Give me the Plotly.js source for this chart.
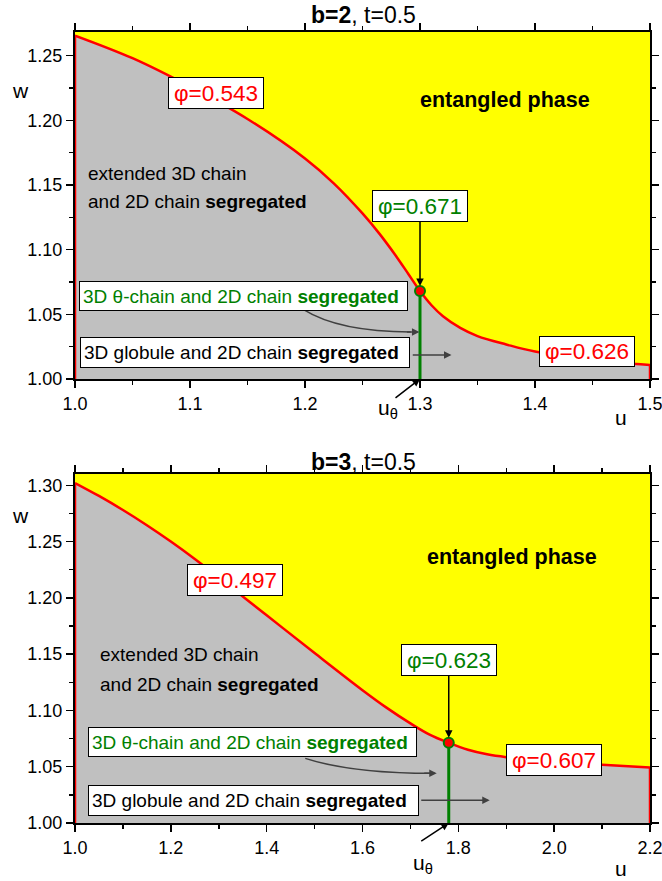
<!DOCTYPE html>
<html>
<head>
<meta charset="utf-8">
<script src="https://cdn.plot.ly/plotly-3.0.1.min.js"></script>
<style>html,body{margin:0;padding:0;background:#fff;}#chart{width:662px;height:881px;}</style>
</head>
<body>
<div id="chart"></div>
<script>
// ---------- data: top panel (b=2, t=0.5) ----------
var uTop = [1.0, 1.05, 1.10, 1.15, 1.20, 1.225, 1.25, 1.265, 1.28, 1.29, 1.30, 1.31, 1.32, 1.335, 1.35, 1.375, 1.40, 1.45, 1.5];
var wTop = [1.2655, 1.248, 1.226, 1.201, 1.1705, 1.1513, 1.128, 1.112, 1.094, 1.081, 1.068, 1.057, 1.0485, 1.0395, 1.0332, 1.0267, 1.0212, 1.0147, 1.0108];
var uThetaTop = [1.30];
var wThetaTop = [1.068];
// ---------- data: bottom panel (b=3, t=0.5) ----------
var uBot = [1.0, 1.05, 1.1, 1.15, 1.2, 1.25, 1.3, 1.4, 1.5, 1.6, 1.65, 1.7, 1.74, 1.78, 1.82, 1.86, 1.9, 2.0, 2.1, 2.2];
var wBot = [1.302, 1.2905, 1.278, 1.2645, 1.25, 1.2345, 1.218, 1.1845, 1.151, 1.118, 1.1025, 1.0885, 1.0785, 1.0712, 1.065, 1.061, 1.0585, 1.0545, 1.0517, 1.0494];
var uThetaBot = [1.78];
var wThetaBot = [1.0712];
// ---------- labels ----------
var titleTop = '<b>b=2</b>, t=0.5';
var titleBot = '<b>b=3</b>, t=0.5';
var phiTop = ['φ=0.543', 'φ=0.671', 'φ=0.626'];
var phiBot = ['φ=0.497', 'φ=0.623', 'φ=0.607'];
var regionText = ['entangled phase', 'extended 3D chain', 'and 2D chain <b>segregated</b>',
                  '3D θ-chain and 2D chain <b>segregated</b>', '3D globule and 2D chain <b>segregated</b>'];
var xTicksTop = [1.0, 1.1, 1.2, 1.3, 1.4, 1.5];
var xTicksBot = [1.0, 1.2, 1.4, 1.6, 1.8, 2.0, 2.2];

var RED = '#ff0000', GREEN = '#008000', GRAY = '#c0c0c0', AGRAY = '#404040';
var FONT = 'Liberation Sans, Arial, sans-serif';

function panelTraces(u, w, ut, wt, xa, ya) {
  var n = u.length;
  return [
    {x: u, y: w, xaxis: xa, yaxis: ya, mode: 'lines', fill: 'tozeroy', fillcolor: GRAY,
     line: {color: RED, width: 2.5, shape: 'spline', smoothing: 1}, hoverinfo: 'skip'},
    {x: [u[0], u[0]], y: [1.0, w[0]], xaxis: xa, yaxis: ya, mode: 'lines',
     line: {color: RED, width: 2.5}, hoverinfo: 'skip'},
    {x: [u[n-1], u[n-1]], y: [w[n-1], 1.0], xaxis: xa, yaxis: ya, mode: 'lines',
     line: {color: RED, width: 2.5}, hoverinfo: 'skip'},
    {x: [ut[0], ut[0]], y: [1.0, wt[0]], xaxis: xa, yaxis: ya, mode: 'lines',
     line: {color: GREEN, width: 3}, hoverinfo: 'skip'},
    {x: ut, y: wt, xaxis: xa, yaxis: ya, mode: 'markers',
     marker: {size: 10, color: RED, line: {color: GREEN, width: 2}}, hoverinfo: 'skip'}
  ];
}

var data = panelTraces(uTop, wTop, uThetaTop, wThetaTop, 'x', 'y')
  .concat(panelTraces(uBot, wBot, uThetaBot, wThetaBot, 'x2', 'y2'));

function xAxis(range, ticks, minorD, domain, anchor) {
  return {range: range, domain: domain, anchor: anchor, tickvals: ticks, tickformat: '.1f',
    ticks: 'outside', ticklen: 7, tickwidth: 1.5, tickcolor: '#000', ticklabeloverflow: 'allow',
    minor: {dtick: minorD, ticklen: 4, tickwidth: 1.5, tickcolor: '#000', ticks: 'outside'},
    showline: true, linecolor: '#000', linewidth: 2, mirror: 'allticks',
    showgrid: false, zeroline: false, tickfont: {family: FONT, size: 18, color: '#000'}, fixedrange: true};
}
function yAxis(range, domain, anchor) {
  return {range: range, domain: domain, anchor: anchor, dtick: 0.05, tick0: 1.0, tickformat: '.2f',
    ticks: 'outside', ticklen: 7, tickwidth: 1.5, tickcolor: '#000', ticklabeloverflow: 'allow',
    minor: {dtick: 0.025, ticklen: 4, tickwidth: 1.5, tickcolor: '#000', ticks: 'outside'},
    showline: true, linecolor: '#000', linewidth: 2, mirror: 'allticks',
    showgrid: false, zeroline: false, tickfont: {family: FONT, size: 18, color: '#000'}, fixedrange: true};
}

function boxAnn(xa, ya, x, y, text, color, size, width, height, align) {
  return {xref: xa, yref: ya, x: x, y: y, text: text, showarrow: false,
    font: {family: FONT, size: size, color: color}, bgcolor: '#fff', bordercolor: '#000',
    borderwidth: 1, borderpad: 3, width: width, height: height, align: align || 'center',
    xanchor: 'center', yanchor: 'middle'};
}
function txtAnn(xa, ya, x, y, text, size, xanchor) {
  return {xref: xa, yref: ya, x: x, y: y, text: text, showarrow: false,
    font: {family: FONT, size: size, color: '#000'}, xanchor: xanchor || 'center', yanchor: 'middle'};
}

var P = function (px) { return px / 662; };
var Q = function (py) { return 1 - py / 881; };

var annotations = [
  // titles & axis titles
  txtAnn('paper', 'paper', P(363), Q(15), titleTop, 23),
  txtAnn('paper', 'paper', P(363), Q(462), titleBot, 23),
  txtAnn('paper', 'paper', P(20), Q(90), 'w', 21),
  txtAnn('paper', 'paper', P(20), Q(515), 'w', 21),
  txtAnn('paper', 'paper', P(621), Q(417), 'u', 21),
  txtAnn('paper', 'paper', P(621), Q(868), 'u', 21),
  // u_theta labels
  {xref: 'x', yref: 'paper', x: 1.262, y: Q(409), text: 'u<sub>θ</sub>', showarrow: false,
   font: {family: FONT, size: 21, color: '#000'}, xanchor: 'left', yanchor: 'middle'},
  {xref: 'x2', yref: 'paper', x: 1.701, y: Q(864), text: 'u<sub>θ</sub>', showarrow: false,
   font: {family: FONT, size: 21, color: '#000'}, xanchor: 'left', yanchor: 'middle'},
  {xref: 'x', yref: 'y', x: uThetaTop[0], y: 1.0, ax: -26, ay: 20, text: '', showarrow: true,
   arrowhead: 2, arrowsize: 1, arrowwidth: 1.5, arrowcolor: '#000'},
  {xref: 'x2', yref: 'y2', x: uThetaBot[0], y: 1.0, ax: -29, ay: 19, text: '', showarrow: true,
   arrowhead: 2, arrowsize: 1, arrowwidth: 1.5, arrowcolor: '#000'},

  // top panel labels
  boxAnn('x', 'y', 1.123, 1.2213, phiTop[0], RED, 22.5, 88, 24),
  boxAnn('x', 'y', 1.445, 1.0215, phiTop[2], RED, 22.5, 88, 23),
  txtAnn('x', 'y', 1.3735, 1.2154, '<b>' + regionText[0] + '</b>', 21.5),
  txtAnn('x', 'y', 1.0096, 1.159, regionText[1], 19, 'left'),
  txtAnn('x', 'y', 1.0096, 1.137, regionText[2], 19, 'left'),
  boxAnn('x', 'y', 1.1465, 1.0645, regionText[3].replace('<b>', '<b style="color:#008000">'), GREEN, 19, 321, 22, 'left'),
  boxAnn('x', 'y', 1.148, 1.0203, regionText[4], '#000', 19, 322, 23, 'left'),
  {xref: 'x', yref: 'y', axref: 'x', ayref: 'y', x: uThetaTop[0], y: wThetaTop[0], ax: 1.30, ay: 1.134,
   text: phiTop[1], showarrow: true, arrowhead: 2, arrowsize: 1, arrowwidth: 1.5, arrowcolor: '#000', standoff: 5,
   font: {family: FONT, size: 22.5, color: GREEN}, bgcolor: '#fff', bordercolor: '#000', borderwidth: 1, borderpad: 3,
   width: 88, height: 24},
  {xref: 'x', yref: 'y', x: 1.2995, y: 1.0364, ax: -14, ay: 0, text: '', showarrow: true,
   arrowhead: 2, arrowsize: 1, arrowwidth: 1.5, arrowcolor: AGRAY},
  {xref: 'x', yref: 'y', axref: 'x', ayref: 'y', x: 1.3274, y: 1.0185, ax: 1.2924, ay: 1.0185, text: '',
   showarrow: true, arrowhead: 2, arrowsize: 1, arrowwidth: 1.5, arrowcolor: AGRAY},

  // bottom panel labels
  boxAnn('x2', 'y2', 1.3346, 1.2155, phiBot[0], RED, 22.5, 88, 24),
  boxAnn('x2', 'y2', 2.0, 1.0559, phiBot[2], RED, 22.5, 88, 24),
  txtAnn('x2', 'y2', 1.913, 1.2359, '<b>' + regionText[0] + '</b>', 21.5),
  txtAnn('x2', 'y2', 1.047, 1.1493, regionText[1], 19, 'left'),
  txtAnn('x2', 'y2', 1.047, 1.1229, regionText[2], 19, 'left'),
  boxAnn('x2', 'y2', 1.371, 1.0718, regionText[3].replace('<b>', '<b style="color:#008000">'), GREEN, 19, 321, 22, 'left'),
  boxAnn('x2', 'y2', 1.3726, 1.0201, regionText[4], '#000', 19, 323, 23, 'left'),
  {xref: 'x2', yref: 'y2', axref: 'x2', ayref: 'y2', x: uThetaBot[0], y: wThetaBot[0], ax: 1.78, ay: 1.1446,
   text: phiBot[1], showarrow: true, arrowhead: 2, arrowsize: 1, arrowwidth: 1.5, arrowcolor: '#000', standoff: 5,
   font: {family: FONT, size: 22.5, color: GREEN}, bgcolor: '#fff', bordercolor: '#000', borderwidth: 1, borderpad: 3,
   width: 88, height: 24},
  {xref: 'x2', yref: 'y2', x: 1.7549, y: 1.0441, ax: -14, ay: 0, text: '', showarrow: true,
   arrowhead: 2, arrowsize: 1, arrowwidth: 1.5, arrowcolor: AGRAY},
  {xref: 'x2', yref: 'y2', axref: 'x2', ayref: 'y2', x: 1.8655, y: 1.0201, ax: 1.7195, ay: 1.0201, text: '',
   showarrow: true, arrowhead: 2, arrowsize: 1, arrowwidth: 1.5, arrowcolor: AGRAY}
];

var shapes = [
  {type: 'path', xref: 'x', yref: 'y', path: 'M 1.1984,1.0538 Q 1.2297,1.0364 1.292,1.0364',
   line: {color: AGRAY, width: 1.5}},
  {type: 'path', xref: 'x2', yref: 'y2', path: 'M 1.4805,1.0574 Q 1.578,1.0441 1.745,1.0441',
   line: {color: AGRAY, width: 1.5}}
];

var layout = {
  width: 662, height: 881, margin: {l: 0, r: 0, t: 0, b: 0},
  paper_bgcolor: '#fff', plot_bgcolor: '#ffff00', showlegend: false,
  font: {family: FONT, color: '#000'},
  xaxis: xAxis([1.0, 1.5], xTicksTop, 0.05, [75/662, 650/662], 'y'),
  yaxis: yAxis([1.0, 1.2685], [1 - 379/881, 1 - 31.7/881], 'x'),
  xaxis2: xAxis([1.0, 2.2], xTicksBot, 0.1, [75/662, 650/662], 'y2'),
  yaxis2: yAxis([1.0, 1.31], [1 - 823/881, 1 - 474/881], 'x2'),
  annotations: annotations,
  shapes: shapes
};

Plotly.newPlot('chart', data, layout, {displayModeBar: false, staticPlot: true});
</script>
</body>
</html>
